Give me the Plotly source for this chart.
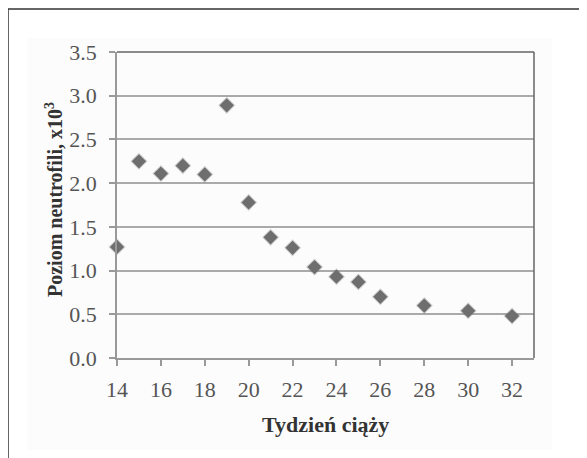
import plotly.graph_objects as go

weeks = [14, 15, 16, 17, 18, 19, 20, 21, 22, 23, 24, 25, 26, 28, 30, 32]
neutrophils = [1.27, 2.25, 2.11, 2.20, 2.10, 2.89, 1.78, 1.38, 1.26, 1.04, 0.93, 0.87, 0.70, 0.60, 0.54, 0.48]
x_ticks = [14, 16, 18, 20, 22, 24, 26, 28, 30, 32]
y_ticks = [0.0, 0.5, 1.0, 1.5, 2.0, 2.5, 3.0, 3.5]
y_tick_labels = ["0.0", "0.5", "1.0", "1.5", "2.0", "2.5", "3.0", "3.5"]

FONT = "Liberation Serif, Times New Roman, serif"

fig = go.Figure()
fig.add_trace(go.Scatter(
    x=weeks, y=neutrophils, mode="markers",
    marker=dict(symbol="diamond", size=11, color="#6e6e6e",
                line=dict(width=2, color="rgba(110,110,110,0.3)")),
    cliponaxis=False, showlegend=False, hoverinfo="x+y",
))

OFF = 8  # page body margin
W, H = 587 - OFF, 458 - OFF
PL, PT, PR, PB = 117, 52, 534, 358
L, T = PL - OFF, PT - OFF
R, B = W - (PR - OFF), H - (PB - OFF)
pw, ph = PR - PL, PB - PT

def px(x):
    return (x - PL) / pw

def py(y):
    return (PB - y) / ph

shapes = [
    dict(type="rect", xref="paper", yref="paper", x0=px(27), x1=px(552), y0=py(450), y1=py(38),
         fillcolor="#fcfcfc", line=dict(width=0), layer="below"),
    dict(type="line", xref="paper", yref="paper", x0=px(8), x1=px(600), y0=py(9), y1=py(9),
         line=dict(color="#333333", width=1.5)),
    dict(type="line", xref="paper", yref="paper", x0=px(8), x1=px(8), y0=py(9), y1=py(470),
         line=dict(color="#333333", width=1.5)),
    dict(type="line", xref="paper", yref="paper", x0=0, x1=1, y0=1, y1=1,
         line=dict(color="#666666", width=1.5)),
    dict(type="line", xref="paper", yref="paper", x0=1, x1=1, y0=0, y1=1,
         line=dict(color="#666666", width=1.5)),
]

annotations = [
    dict(text="<b>Tydzień ciąży</b>", xref="paper", yref="paper", x=px(325), y=py(424),
         showarrow=False, xanchor="center", yanchor="middle",
         font=dict(size=22, color="#333333", family=FONT)),
    dict(text="<b>Poziom neutrofili, x10<sup>3</sup></b>", xref="paper", yref="paper", x=px(54), y=py(200),
         showarrow=False, xanchor="center", yanchor="middle", textangle=-90,
         font=dict(size=20, color="#333333", family=FONT)),
]

fig.update_layout(
    width=W, height=H,
    margin=dict(l=L, r=R, t=T, b=B),
    paper_bgcolor="white", plot_bgcolor="#fcfcfc",
    font=dict(family=FONT, color="#555555"),
    shapes=shapes, annotations=annotations,
    xaxis=dict(
        range=[14, 33], tickvals=x_ticks, ticktext=[str(v) for v in x_ticks],
        showgrid=False, zeroline=False, showline=True, linecolor="#999999", linewidth=1.5,
        ticks="outside", ticklen=6, tickcolor="#999999", tickwidth=1.5,
        ticklabelstandoff=5,
        tickfont=dict(size=22, color="#555555", family=FONT),
    ),
    yaxis=dict(
        range=[0, 3.5], tickvals=y_ticks, ticktext=y_tick_labels,
        showgrid=True, gridcolor="#aaaaaa", gridwidth=1.5,
        zeroline=False, showline=True, linecolor="#999999", linewidth=1.5,
        ticks="outside", ticklen=6, tickcolor="#999999", tickwidth=1.5,
        ticklabelstandoff=8,
        tickfont=dict(size=22, color="#555555", family=FONT),
    ),
)

fig.write_html("out.html")
